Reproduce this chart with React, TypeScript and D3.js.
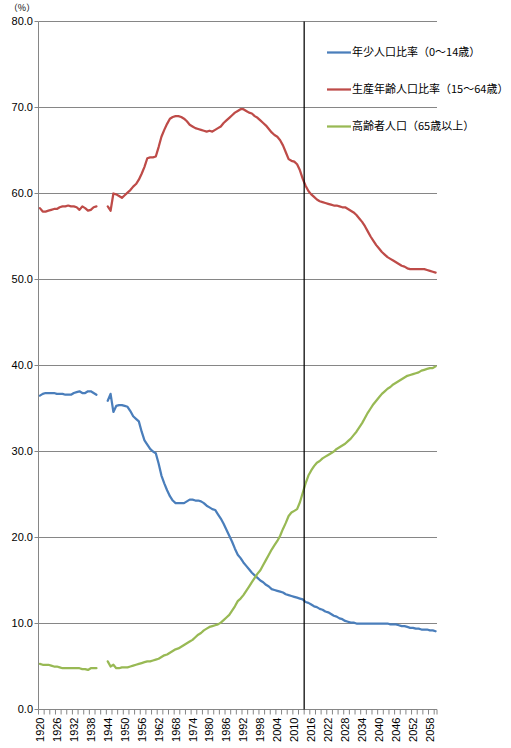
import { useMemo } from 'react';
import * as d3 from 'd3';

// categories: every year 1920–2060 (1941–1943 have no data)
const years = d3.range(1920, 2061);

// 年少人口比率（0～14歳）
const youngShare: (number | null)[] = [
    36.5, 36.7, 36.8, 36.8, 36.8, 36.8, 36.7, 36.7, 36.7, 36.6,
    36.6, 36.6, 36.8, 36.9, 37.0, 36.8, 36.8, 37.0, 37.0, 36.8,
    36.6, null, null, null, 35.9, 36.7, 34.6, 35.3, 35.4, 35.4,
    35.3, 35.2, 34.7, 34.1, 33.8, 33.5, 32.3, 31.3, 30.8, 30.3,
    30.0, 29.8, 28.6, 27.2, 26.3, 25.5, 24.8, 24.3, 24.0, 24.0,
    24.0, 24.0, 24.2, 24.4, 24.4, 24.3, 24.3, 24.2, 24.0, 23.7,
    23.5, 23.3, 23.2, 22.7, 22.2, 21.6, 20.9, 20.2, 19.5, 18.7,
    18.0, 17.6, 17.1, 16.7, 16.3, 15.9, 15.6, 15.3, 15.0, 14.8,
    14.5, 14.3, 14.0, 13.9, 13.8, 13.7, 13.6, 13.4, 13.3, 13.2,
    13.1, 13.0, 12.9, 12.8, 12.5, 12.4, 12.2, 12.0, 11.9, 11.7,
    11.6, 11.4, 11.3, 11.1, 10.9, 10.8, 10.6, 10.5, 10.3, 10.2,
    10.1, 10.1, 10.0, 10.0, 10.0, 10.0, 10.0, 10.0, 10.0, 10.0,
    10.0, 10.0, 10.0, 10.0, 9.9, 9.9, 9.9, 9.8, 9.7, 9.7,
    9.6, 9.5, 9.5, 9.4, 9.4, 9.3, 9.3, 9.3, 9.2, 9.2,
    9.1,
];

// 生産年齢人口比率（15～64歳）
const workingShare: (number | null)[] = [
    58.3, 57.9, 57.9, 58.0, 58.1, 58.2, 58.2, 58.4, 58.5, 58.5,
    58.6, 58.5, 58.5, 58.4, 58.1, 58.5, 58.3, 58.0, 58.1, 58.4,
    58.5, null, null, null, 58.5, 58.0, 60.0, 59.9, 59.7, 59.5,
    59.8, 60.1, 60.4, 60.8, 61.1, 61.6, 62.3, 63.1, 64.1, 64.2,
    64.2, 64.3, 65.4, 66.6, 67.4, 68.1, 68.7, 68.9, 69.0, 69.0,
    68.9, 68.7, 68.4, 68.0, 67.8, 67.6, 67.5, 67.4, 67.3, 67.2,
    67.3, 67.2, 67.4, 67.6, 67.8, 68.2, 68.5, 68.8, 69.1, 69.4,
    69.6, 69.8, 69.8, 69.6, 69.4, 69.3, 69.0, 68.8, 68.5, 68.2,
    67.9, 67.5, 67.1, 66.8, 66.6, 66.2, 65.6, 64.8, 64.0, 63.8,
    63.7, 63.4, 62.7, 61.7, 60.9, 60.3, 59.9, 59.6, 59.3, 59.1,
    59.0, 58.9, 58.8, 58.7, 58.6, 58.6, 58.5, 58.4, 58.4, 58.2,
    58.0, 57.8, 57.5, 57.1, 56.7, 56.2, 55.6, 55.0, 54.5, 54.0,
    53.6, 53.2, 52.9, 52.6, 52.4, 52.2, 52.0, 51.8, 51.6, 51.5,
    51.3, 51.2, 51.2, 51.2, 51.2, 51.2, 51.2, 51.1, 51.0, 50.9,
    50.8,
];

// 高齢者人口（65歳以上）
const elderlyShare: (number | null)[] = [
    5.3, 5.2, 5.2, 5.2, 5.1, 5.0, 5.0, 4.9, 4.8, 4.8,
    4.8, 4.8, 4.8, 4.8, 4.8, 4.7, 4.7, 4.6, 4.8, 4.8,
    4.8, null, null, null, 5.6, 5.0, 5.2, 4.8, 4.8, 4.9,
    4.9, 4.9, 5.0, 5.1, 5.2, 5.3, 5.4, 5.5, 5.6, 5.6,
    5.7, 5.8, 5.9, 6.1, 6.3, 6.4, 6.6, 6.8, 7.0, 7.1,
    7.3, 7.5, 7.7, 7.9, 8.1, 8.4, 8.7, 8.9, 9.2, 9.4,
    9.6, 9.7, 9.8, 9.9, 10.1, 10.4, 10.7, 11.0, 11.5, 12.0,
    12.6, 12.9, 13.3, 13.8, 14.3, 14.8, 15.3, 15.8, 16.2, 16.8,
    17.4, 18.0, 18.6, 19.1, 19.6, 20.2, 21.0, 21.7, 22.5, 22.9,
    23.1, 23.3, 24.1, 25.2, 26.3, 27.2, 27.8, 28.3, 28.7, 28.9,
    29.2, 29.4, 29.6, 29.8, 30.0, 30.3, 30.5, 30.7, 30.9, 31.2,
    31.5, 31.9, 32.3, 32.8, 33.3, 33.9, 34.5, 35.0, 35.5, 35.9,
    36.3, 36.7, 37.0, 37.3, 37.5, 37.8, 38.0, 38.2, 38.4, 38.6,
    38.8, 38.9, 39.0, 39.1, 39.2, 39.4, 39.5, 39.6, 39.7, 39.7,
    39.9,
];

const seriesNames = ['年少人口比率（0～14歳）', '生産年齢人口比率（15～64歳）', '高齢者人口（65歳以上）'];
const seriesColors = ['#4a7ebb', '#be4b48', '#98b954'];
const yTicks = [0, 10, 20, 30, 40, 50, 60, 70, 80];
const markerYear = 2014; // vertical rule drawn at the start of this year

const width = 511;
const height = 748;
const margin = { top: 21.5, right: 74, bottom: 38.5, left: 38.5 };

export default function App() {
    const x = useMemo(
        () =>
            d3
                .scaleBand<number>()
                .domain(years)
                .range([margin.left, width - margin.right])
                .padding(0),
        []
    );
    const y = useMemo(
        () => d3.scaleLinear().domain([0, 80]).range([height - margin.bottom, margin.top]),
        []
    );
    const bw = x.bandwidth();

    const line = d3
        .line<number | null>()
        .defined((d) => d != null)
        .x((_, i) => x(years[i])! + bw / 2)
        .y((d) => y(d as number));

    const series = [youngShare, workingShare, elderlyShare];
    const x0 = margin.left;
    const x1 = width - margin.right;
    const yBottom = y(0);
    const labelYears = years.filter((_, i) => i % 6 === 0);
    const tickXs = years.filter((_, i) => i % 2 === 0).map((yr) => x(yr)!).concat([x1]);
    const ruleX = x(markerYear)!;

    return (
        <svg
            width={width}
            height={height}
            viewBox={`0 0 ${width} ${height}`}
            style={{ position: 'absolute', left: 0, top: 0, background: '#fff' }}
            fontFamily="'Liberation Sans', Arial, sans-serif"
        >
            {/* gridlines + left ticks */}
            {yTicks.map((t) => (
                <g key={t}>
                    {t > 0 && <line x1={x0} x2={x1} y1={y(t)} y2={y(t)} stroke="#868686" strokeWidth={1} />}
                    <line x1={x0 - 4} x2={x0} y1={y(t)} y2={y(t)} stroke="#868686" strokeWidth={1} />
                    <text x={33} y={y(t)} dy="0.35em" textAnchor="end" fontSize={11} fill="#000">
                        {t.toFixed(1)}
                    </text>
                </g>
            ))}
            <text x={22} y={11} textAnchor="middle" fontSize={9} fill="#000" fontFamily="'Noto Sans CJK JP', sans-serif">
                （%）
            </text>

            {/* axes */}
            <line x1={x0} x2={x0} y1={y(80)} y2={yBottom} stroke="#868686" strokeWidth={1} />
            <line x1={x0} x2={x1} y1={yBottom} y2={yBottom} stroke="#868686" strokeWidth={1} />
            {tickXs.map((tx, i) => (
                <line key={i} x1={tx} x2={tx} y1={yBottom} y2={yBottom + 5} stroke="#868686" strokeWidth={1} />
            ))}
            {labelYears.map((yr) => {
                const cx = x(yr)! + bw / 2;
                return (
                    <text
                        key={yr}
                        transform={`translate(${cx + 4},${yBottom + 8}) rotate(-90)`}
                        textAnchor="end"
                        fontSize={11}
                        fill="#000"
                    >
                        {yr}
                    </text>
                );
            })}

            {/* series */}
            {series.map((s, i) => (
                <path
                    key={i}
                    d={line(s) ?? ''}
                    fill="none"
                    stroke={seriesColors[i]}
                    strokeWidth={2.25}
                    strokeLinejoin="round"
                    strokeLinecap="round"
                />
            ))}

            {/* marker rule */}
            <line x1={ruleX} x2={ruleX} y1={y(80)} y2={yBottom} stroke="#000" strokeWidth={1.25} />

            {/* legend */}
            {seriesNames.map((name, i) => {
                const ly = 52.5 + i * 37;
                return (
                    <g key={name}>
                        <line x1={327} x2={351} y1={ly} y2={ly} stroke={seriesColors[i]} strokeWidth={2.25} />
                        <text
                            x={352}
                            y={ly}
                            dy="0.36em"
                            fontSize={11}
                            fill="#000"
                            fontFamily="'Noto Sans CJK JP', sans-serif"
                        >
                            {name}
                        </text>
                    </g>
                );
            })}
        </svg>
    );
}
